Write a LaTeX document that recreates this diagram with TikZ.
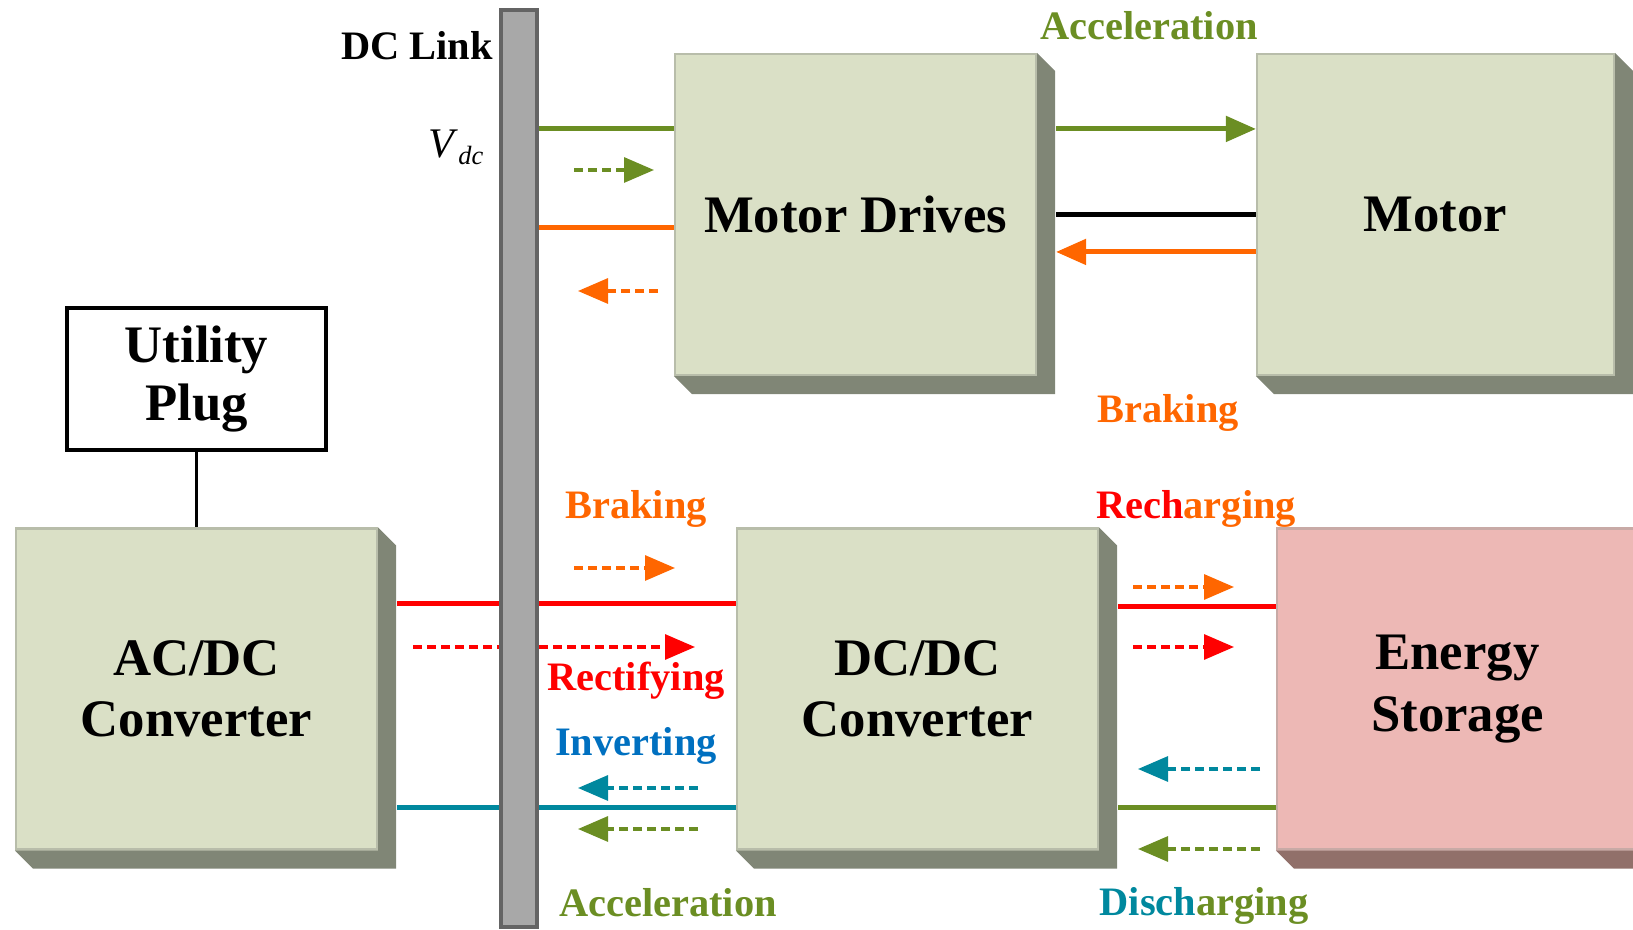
\documentclass[tikz,border=0pt]{standalone}
\usepackage{fontspec}
\setmainfont{Liberation Serif}
\usetikzlibrary{arrows.meta}

\definecolor{boxfill}{RGB}{218,224,198}
\definecolor{boxedge}{RGB}{184,189,170}
\definecolor{boxshade}{RGB}{128,134,118}
\definecolor{esfill}{RGB}{237,184,181}
\definecolor{esedge}{RGB}{200,170,166}
\definecolor{esshade}{RGB}{145,112,106}
\definecolor{accgreen}{RGB}{107,142,35}
\definecolor{brkorange}{RGB}{255,102,0}
\definecolor{recred}{RGB}{255,0,0}
\definecolor{disteal}{RGB}{0,136,158}
\definecolor{invblue}{RGB}{0,112,192}
\definecolor{linkgray}{RGB}{168,168,168}
\definecolor{linkedge}{RGB}{100,100,100}

\begin{document}
\begin{tikzpicture}[x=1cm, y=-1cm,
  block/.style={draw=boxedge, fill=boxfill, line width=0.6pt, minimum width=3.61cm, minimum height=3.21cm, inner sep=0pt, align=center, font=\bfseries\fontsize{15}{17.5}\selectfont},
  flowtext/.style={inner sep=0pt, font=\bfseries\fontsize{11.5}{13}\selectfont},
  flow/.style={line width=1.4pt},
  dashedflow/.style={line width=0.9pt, dash pattern=on 0.9mm off 0.5mm},
  tip/.style={-{Triangle[length=3mm,width=2.5mm]}}]
\useasboundingbox (0,0) rectangle (16.33,9.30);

% blocks
\node[block] (md) at (8.555,2.145) {Motor Drives};
\node[block, minimum width=3.57cm] (motor) at (14.355,2.145) {Motor};
\node[block] (acdc) at (1.965,6.89) {AC/DC\\Converter};
\node[block] (dcdc) at (9.175,6.89) {DC/DC\\Converter};
\node[block, draw=esedge, fill=esfill] (es) at (14.575,6.89) {Energy\\Storage};

% 3d shades
\fill[boxshade] (md.north east) -- ++(0.18,0.18) -- ([shift={(0.18,0.18)}]md.south east) -- ([shift={(0.18,0.18)}]md.south west) -- (md.south west) -- (md.south east) -- cycle;
\fill[boxshade] (motor.north east) -- ++(0.18,0.18) -- ([shift={(0.18,0.18)}]motor.south east) -- ([shift={(0.18,0.18)}]motor.south west) -- (motor.south west) -- (motor.south east) -- cycle;
\fill[boxshade] (acdc.north east) -- ++(0.18,0.18) -- ([shift={(0.18,0.18)}]acdc.south east) -- ([shift={(0.18,0.18)}]acdc.south west) -- (acdc.south west) -- (acdc.south east) -- cycle;
\fill[boxshade] (dcdc.north east) -- ++(0.18,0.18) -- ([shift={(0.18,0.18)}]dcdc.south east) -- ([shift={(0.18,0.18)}]dcdc.south west) -- (dcdc.south west) -- (dcdc.south east) -- cycle;
\fill[esshade] (es.north east) -- ++(0.18,0.18) -- ([shift={(0.18,0.18)}]es.south east) -- ([shift={(0.18,0.18)}]es.south west) -- (es.south west) -- (es.south east) -- cycle;

% utility plug
\node[draw, line width=1.3pt, minimum width=2.59cm, minimum height=1.42cm, align=center, font=\bfseries\fontsize{15}{17.5}\selectfont] (plug) at (1.965,3.79) {\raisebox{-1.5mm}{\shortstack{Utility\\Plug}}};
\draw[line width=1pt] (plug) -- (acdc);

% lower links (behind the dc link)
\draw[flow, recred] ([xshift=1.9mm,yshift=-7.6mm]acdc.north east) -- ([yshift=-7.6mm]dcdc.north west);
\draw[flow, disteal] ([xshift=1.9mm,yshift=-28mm]acdc.north east) -- ([yshift=-28mm]dcdc.north west);
\draw[dashedflow, tip, recred] (4.13,6.47) -- (6.95,6.47);

% dc link bar
\node[draw=linkedge, fill=linkgray, line width=1pt, minimum width=0.36cm, minimum height=9.17cm, inner sep=0pt] (dclink) at (5.19,4.685) {};
\node (linklabel) at (4.17,0.46) {\bfseries\fontsize{11.5}{13}\selectfont DC Link};
\node (vdc) at (4.56,1.47) {\fontsize{12}{14}\selectfont\textit{V}{\fontsize{7.5}{9}\selectfont\raisebox{-0.6ex}{\textit{dc}}}};

% motor drives side
\draw[flow, accgreen] ([yshift=-7.6mm]md.north west) coordinate (mdacc) -- (mdacc -| dclink.east);
\draw[flow, brkorange] ([yshift=-17.5mm]md.north west) coordinate (mdbrk) -- (mdbrk -| dclink.east);
\draw[dashedflow, tip, accgreen] (5.74,1.70) -- (6.54,1.70);
\draw[dashedflow, tip, brkorange] (6.58,2.91) -- (5.78,2.91);

\draw[flow, tip, accgreen] ([xshift=1.9mm,yshift=-7.6mm]md.north east) -- ([yshift=-7.6mm]motor.north west);
\draw[line width=1.4pt] ([xshift=1.9mm]md.east) -- (motor.west);
\draw[flow, tip, brkorange] ([yshift=-19.9mm]motor.north west) -- ([xshift=1.9mm,yshift=-19.9mm]md.north east);

% dc/dc side
\draw[dashedflow, tip, brkorange] (5.74,5.68) -- (6.75,5.68);
\draw[dashedflow, tip, disteal] (6.98,7.88) -- (5.78,7.88);
\draw[dashedflow, tip, accgreen] (6.98,8.29) -- (5.78,8.29);

\draw[flow, recred] ([xshift=1.9mm,yshift=-7.9mm]dcdc.north east) -- ([yshift=-7.9mm]es.north west);
\draw[flow, accgreen] ([xshift=1.9mm,yshift=-28mm]dcdc.north east) -- ([yshift=-28mm]es.north west);
\draw[dashedflow, tip, brkorange] (11.33,5.87) -- (12.34,5.87);
\draw[dashedflow, tip, recred] (11.33,6.47) -- (12.34,6.47);
\draw[dashedflow, tip, disteal] (12.60,7.69) -- (11.38,7.69);
\draw[dashedflow, tip, accgreen] (12.60,8.49) -- (11.38,8.49);

% flow labels
\node[flowtext, accgreen] (acctop) at (11.49,0.26) {Acceleration};
\node[flowtext, brkorange] (brktop) at (11.68,4.13) {Braking};
\node[flowtext, brkorange] (brklow) at (6.36,5.09) {Braking};
\node[flowtext, recred] (rect) at (6.36,6.81) {Rectifying};
\node[flowtext, invblue] (inv) at (6.36,7.46) {Inverting};
\node[flowtext, accgreen] (acclow) at (6.68,9.03) {Acceleration};
\node[flowtext] (rech) at (11.96,5.09) {{\color{recred}Rech}{\color{brkorange}arging}};
\node[flowtext] (disch) at (12.04,9.06) {{\color{disteal}Disch}{\color{accgreen}arging}};
\end{tikzpicture}
\end{document}
